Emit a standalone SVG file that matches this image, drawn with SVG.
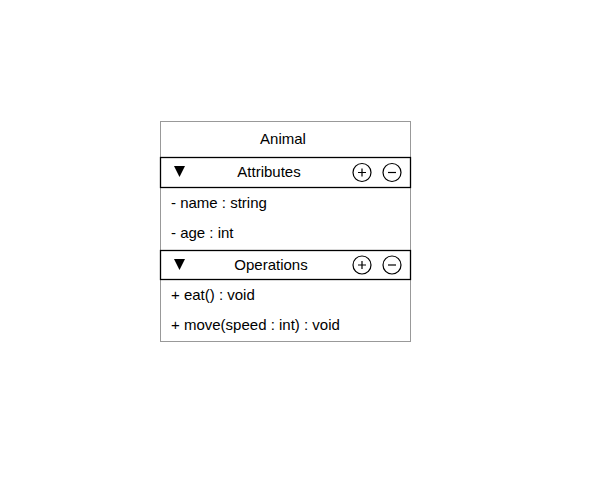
<svg xmlns="http://www.w3.org/2000/svg" width="601" height="498" viewBox="0 0 601 498">
<style>
text{font-family:"Liberation Sans",Arial,sans-serif;font-size:15px;fill:#000}
.c{text-anchor:middle}
.hdr{fill:#fff;stroke:#000;stroke-width:1.3}
.btn{fill:#fff;stroke:#000;stroke-width:1.2}
.sym{stroke:#000;stroke-width:1.2}
</style>
<rect width="601" height="498" fill="#fff"/>
<g id="class-animal">
<rect x="160.5" y="121.5" width="250" height="220" fill="#fff" stroke="#999" stroke-width="1"/>
<text class="c" x="283" y="144">Animal</text>
</g>
<g id="attributes">
<rect class="hdr" x="160.5" y="157.5" width="250" height="30"/>
<polygon points="174,166 185,166 179.5,177" fill="#000"/>
<text class="c" x="269" y="177">Attributes</text>
<circle class="btn" cx="362" cy="172.5" r="9"/>
<path class="sym" d="M358,172.5h8M362,168.5v8"/>
<circle class="btn" cx="392" cy="172.5" r="9"/>
<path class="sym" d="M388,172.5h8"/>
<text x="171" y="208">- name : string</text>
<text x="171" y="238">- age : int</text>
</g>
<g id="operations">
<rect class="hdr" x="160.5" y="250.5" width="250" height="29"/>
<polygon points="174,259 185,259 179.5,270" fill="#000"/>
<text class="c" x="271" y="270">Operations</text>
<circle class="btn" cx="362" cy="265" r="9"/>
<path class="sym" d="M358,265h8M362,261v8"/>
<circle class="btn" cx="392" cy="265" r="9"/>
<path class="sym" d="M388,265h8"/>
<text x="171" y="300">+ eat() : void</text>
<text x="171" y="330">+ move(speed : int) : void</text>
</g>
<g id="connectors"/>
</svg>
